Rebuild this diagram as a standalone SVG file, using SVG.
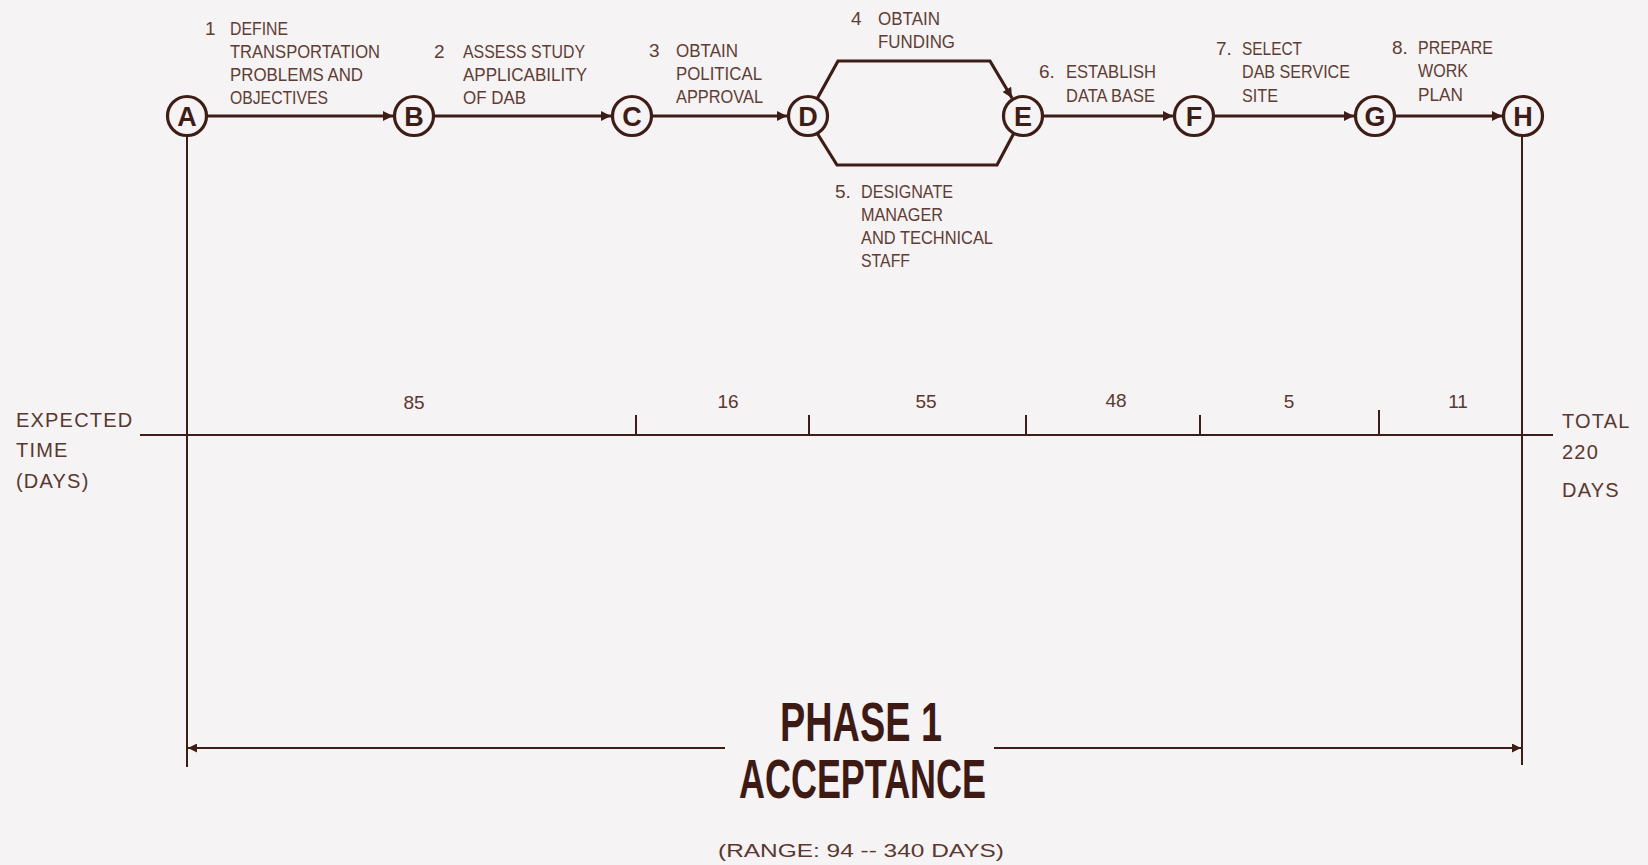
<svg xmlns="http://www.w3.org/2000/svg" width="1648" height="865" viewBox="0 0 1648 865">
<style>
.bg{fill:#f5f3f4}
.node circle{fill:#f5f3f4;stroke:#3e1d17;stroke-width:3.2}
.node text{font-family:"Liberation Sans",Arial,sans-serif;font-weight:bold;font-size:27px;fill:#3e1d17;text-anchor:middle}
.conn{fill:none;stroke:#3e1d17;stroke-width:3.2}
.thin{fill:none;stroke:#3e1d17;stroke-width:2}
.lbl{font-family:"Liberation Sans",Arial,sans-serif;font-size:19px;fill:#5f3d34}
.num{font-family:"Liberation Sans",Arial,sans-serif;font-size:19px;fill:#5a382f;text-anchor:middle}
.side{font-family:"Liberation Sans",Arial,sans-serif;font-size:20px;fill:#5a382f;letter-spacing:1.2px}
.big{font-family:"Liberation Sans",Arial,sans-serif;font-weight:bold;font-size:56px;fill:#3e1a14}
.rng{font-family:"Liberation Sans",Arial,sans-serif;font-size:19px;fill:#5a382f}
</style>
<defs>
<marker id="ah" viewBox="0 0 10 10" refX="10" refY="5" markerUnits="userSpaceOnUse" markerWidth="13" markerHeight="10" orient="auto">
<path d="M0,0 L10,5 L0,10 z" fill="#3e1d17"/>
</marker>
<marker id="ahs" viewBox="0 0 10 10" refX="10" refY="5" markerUnits="userSpaceOnUse" markerWidth="11" markerHeight="9" orient="auto">
<path d="M0,0 L10,5 L0,10 z" fill="#3e1d17"/>
</marker>
</defs>
<rect class="bg" x="0" y="0" width="1648" height="865"/>

<g id="connectors">
<line class="conn" x1="207" y1="116" x2="393" y2="116" marker-end="url(#ah)"/>
<line class="conn" x1="434" y1="116" x2="611" y2="116" marker-end="url(#ah)"/>
<line class="conn" x1="652" y1="116" x2="787" y2="116" marker-end="url(#ah)"/>
<path class="conn" d="M817,99 L838,61 L990,61 L1012,98" marker-end="url(#ah)"/>
<path class="conn" d="M817,133 L837,165 L997,165 L1014,133"/>
<line class="conn" x1="1043" y1="116" x2="1173" y2="116" marker-end="url(#ah)"/>
<line class="conn" x1="1214" y1="116" x2="1354" y2="116" marker-end="url(#ah)"/>
<line class="conn" x1="1395" y1="116" x2="1502" y2="116" marker-end="url(#ah)"/>
<line class="thin" x1="187" y1="136" x2="187" y2="767"/>
<line class="thin" x1="1522" y1="136" x2="1522" y2="765"/>
<line class="thin" x1="140" y1="435" x2="1553" y2="435"/>
<line class="thin" x1="636" y1="415" x2="636" y2="435"/>
<line class="thin" x1="809" y1="415" x2="809" y2="435"/>
<line class="thin" x1="1026" y1="415" x2="1026" y2="435"/>
<line class="thin" x1="1200" y1="415" x2="1200" y2="435"/>
<line class="thin" x1="1379" y1="410" x2="1379" y2="435"/>
<line class="thin" x1="725" y1="748" x2="188" y2="748" marker-end="url(#ahs)"/>
<line class="thin" x1="994" y1="748" x2="1521" y2="748" marker-end="url(#ahs)"/>
</g>

<g id="node-A" class="node"><circle cx="187" cy="116" r="19.5"/><text x="187" y="126">A</text></g>
<g id="node-B" class="node"><circle cx="414" cy="116" r="19.5"/><text x="414" y="126">B</text></g>
<g id="node-C" class="node"><circle cx="632" cy="116" r="19.5"/><text x="632" y="126">C</text></g>
<g id="node-D" class="node"><circle cx="808" cy="116" r="19.5"/><text x="808" y="126">D</text></g>
<g id="node-E" class="node"><circle cx="1023" cy="116" r="19.5"/><text x="1023" y="126">E</text></g>
<g id="node-F" class="node"><circle cx="1194" cy="116" r="19.5"/><text x="1194" y="126">F</text></g>
<g id="node-G" class="node"><circle cx="1375" cy="116" r="19.5"/><text x="1375" y="126">G</text></g>
<g id="node-H" class="node"><circle cx="1523" cy="116" r="19.5"/><text x="1523" y="126">H</text></g>

<g id="label-1" class="lbl">
<text x="205" y="35">1</text>
<text x="230" y="35" textLength="58" lengthAdjust="spacingAndGlyphs">DEFINE</text>
<text x="230" y="58" textLength="150" lengthAdjust="spacingAndGlyphs">TRANSPORTATION</text>
<text x="230" y="81" textLength="133" lengthAdjust="spacingAndGlyphs">PROBLEMS AND</text>
<text x="230" y="104" textLength="98" lengthAdjust="spacingAndGlyphs">OBJECTIVES</text>
</g>
<g id="label-2" class="lbl">
<text x="434" y="58">2</text>
<text x="463" y="58" textLength="122" lengthAdjust="spacingAndGlyphs">ASSESS STUDY</text>
<text x="463" y="81" textLength="124" lengthAdjust="spacingAndGlyphs">APPLICABILITY</text>
<text x="463" y="104" textLength="63" lengthAdjust="spacingAndGlyphs">OF DAB</text>
</g>
<g id="label-3" class="lbl">
<text x="649" y="57">3</text>
<text x="676" y="57" textLength="62" lengthAdjust="spacingAndGlyphs">OBTAIN</text>
<text x="676" y="80" textLength="86" lengthAdjust="spacingAndGlyphs">POLITICAL</text>
<text x="676" y="103" textLength="87" lengthAdjust="spacingAndGlyphs">APPROVAL</text>
</g>
<g id="label-4" class="lbl">
<text x="851" y="25">4</text>
<text x="878" y="25" textLength="62" lengthAdjust="spacingAndGlyphs">OBTAIN</text>
<text x="878" y="48" textLength="77" lengthAdjust="spacingAndGlyphs">FUNDING</text>
</g>
<g id="label-5" class="lbl">
<text x="835" y="198">5.</text>
<text x="861" y="198" textLength="92" lengthAdjust="spacingAndGlyphs">DESIGNATE</text>
<text x="861" y="221" textLength="82" lengthAdjust="spacingAndGlyphs">MANAGER</text>
<text x="861" y="244" textLength="132" lengthAdjust="spacingAndGlyphs">AND TECHNICAL</text>
<text x="861" y="267" textLength="49" lengthAdjust="spacingAndGlyphs">STAFF</text>
</g>
<g id="label-6" class="lbl">
<text x="1039" y="78">6.</text>
<text x="1066" y="78" textLength="90" lengthAdjust="spacingAndGlyphs">ESTABLISH</text>
<text x="1066" y="102" textLength="89" lengthAdjust="spacingAndGlyphs">DATA BASE</text>
</g>
<g id="label-7" class="lbl">
<text x="1216" y="55">7.</text>
<text x="1242" y="55" textLength="60" lengthAdjust="spacingAndGlyphs">SELECT</text>
<text x="1242" y="78" textLength="108" lengthAdjust="spacingAndGlyphs">DAB SERVICE</text>
<text x="1242" y="102" textLength="36" lengthAdjust="spacingAndGlyphs">SITE</text>
</g>
<g id="label-8" class="lbl">
<text x="1392" y="54">8.</text>
<text x="1418" y="54" textLength="75" lengthAdjust="spacingAndGlyphs">PREPARE</text>
<text x="1418" y="77" textLength="50" lengthAdjust="spacingAndGlyphs">WORK</text>
<text x="1418" y="101" textLength="45" lengthAdjust="spacingAndGlyphs">PLAN</text>
</g>

<g id="durations" class="num">
<text x="414" y="409">85</text>
<text x="728" y="408">16</text>
<text x="926" y="408">55</text>
<text x="1116" y="407">48</text>
<text x="1289" y="408">5</text>
<text x="1458" y="408">11</text>
</g>

<g id="axis-label" class="side">
<text x="16" y="427">EXPECTED</text>
<text x="16" y="457">TIME</text>
<text x="16" y="488">(DAYS)</text>
</g>
<g id="total-label" class="side">
<text x="1562" y="428">TOTAL</text>
<text x="1562" y="459">220</text>
<text x="1562" y="497">DAYS</text>
</g>

<g id="phase-title">
<text class="big" x="780" y="741" textLength="162" lengthAdjust="spacingAndGlyphs">PHASE 1</text>
<text class="big" x="739" y="798" textLength="247" lengthAdjust="spacingAndGlyphs">ACCEPTANCE</text>
<text class="rng" x="718" y="857" textLength="286" lengthAdjust="spacingAndGlyphs">(RANGE: 94 -- 340 DAYS)</text>
</g>
</svg>
